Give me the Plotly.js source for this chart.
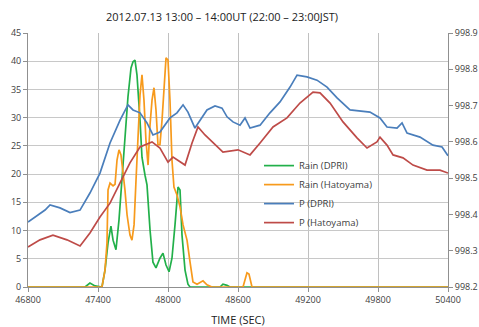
<!DOCTYPE html>
<html>
<head>
<meta charset="utf-8">
<script src="https://cdn.plot.ly/plotly-3.0.1.min.js"></script>
<style>html,body{margin:0;padding:0;background:#fff;}#chart{width:479px;height:327px;}</style>
</head>
<body>
<div id="chart"></div>
<script>
// Rain (DPRI)
const rainDpriT = [46800,47289,47331,47374,47434,47460,47486,47511,47529,47554,47580,47614,47640,47657,47683,47700,47717,47734,47760,47777,47803,47820,47846,47871,47897,47931,47957,47983,48009,48034,48060,48086,48103,48120,48146,48171,48189,48446,48471,48506,48531,50400];
const rainDpriV = [0,0,0.7,0.2,0,3.0,7.8,10.8,8.3,6.6,11.9,22.0,29.6,33.7,38.8,39.9,40.2,37.6,29.6,23.0,19.8,18.1,10.1,4.4,3.4,5.1,6.0,3.9,2.7,5.1,11.0,17.7,17.2,9.2,3.0,0.5,0,0,0.5,0.3,0,0];
// Rain (Hatoyama)
const rainHatoT = [46800,47434,47460,47477,47486,47503,47529,47546,47563,47580,47597,47614,47631,47649,47674,47691,47709,47726,47743,47760,47777,47794,47811,47829,47846,47863,47880,47897,47914,47931,47949,47966,47983,48000,48017,48034,48051,48077,48103,48129,48163,48189,48214,48249,48300,48334,48377,48643,48660,48677,48694,48711,48720,50400];
const rainHatoV = [0,0,3.0,7.8,17.2,18.4,17.9,18.2,22.5,24.3,23.4,20.7,17.2,12.8,9.2,8.3,11.0,19.0,26.0,34.0,37.6,33.1,26.0,21.6,28.7,33.1,35.3,31.4,25.2,25.2,29.6,34.9,40.6,40.2,33.1,22.5,17.7,16.3,14.2,11.0,8.3,4.4,0.9,0.5,1.1,0.4,0,0,1.2,2.5,2.3,0.4,0,0];
// P (DPRI)
const pDpriT = [46800,46860,46946,46989,47074,47160,47246,47331,47417,47503,47589,47657,47700,47760,47820,47871,47931,48017,48077,48129,48171,48231,48274,48334,48403,48463,48506,48557,48617,48660,48703,48789,48874,48960,49046,49106,49191,49277,49363,49449,49560,49731,49817,49877,49963,50006,50049,50160,50271,50349,50400];
const pDpriV = [998.379,998.393,998.412,998.426,998.418,998.405,998.412,998.459,998.514,998.597,998.660,998.702,998.688,998.680,998.652,998.619,998.627,998.666,998.680,998.702,998.682,998.638,998.660,998.688,998.699,998.693,998.669,998.655,998.646,998.666,998.638,998.646,998.680,998.710,998.751,998.784,998.779,998.770,998.751,998.721,998.688,998.682,998.666,998.641,998.638,998.652,998.624,998.613,998.591,998.586,998.562];
// P (Hatoyama)
const pHatoT = [46800,46860,46903,47014,47134,47246,47331,47417,47503,47589,47674,47760,47863,47931,48000,48043,48146,48206,48257,48317,48386,48471,48600,48703,48789,48900,49020,49131,49243,49303,49389,49500,49620,49706,49791,49817,49877,49929,50014,50100,50220,50331,50400];
const pHatoV = [998.310,998.321,998.330,998.343,998.330,998.313,998.349,998.393,998.431,998.487,998.542,998.586,998.600,998.583,998.544,998.558,998.536,998.597,998.641,998.619,998.597,998.572,998.578,998.564,998.597,998.641,998.666,998.707,998.737,998.735,998.707,998.655,998.611,998.583,998.600,998.613,998.591,998.564,998.556,998.536,998.522,998.522,998.514];

const FONT = "Open Sans, Liberation Sans, sans-serif";
const traces = [
  {x: rainDpriT, y: rainDpriV, name: 'Rain (DPRI)', mode: 'lines', line: {color: '#22b04a', width: 1.7}},
  {x: rainHatoT, y: rainHatoV, name: 'Rain (Hatoyama)', mode: 'lines', line: {color: '#f79a1c', width: 1.7}},
  {x: pDpriT, y: pDpriV, name: 'P (DPRI)', mode: 'lines', yaxis: 'y2', line: {color: '#4a7ebb', width: 1.7}},
  {x: pHatoT, y: pHatoV, name: 'P (Hatoyama)', mode: 'lines', yaxis: 'y2', line: {color: '#be4b48', width: 1.7}}
];
const layout = {
  width: 479, height: 327,
  margin: {l: 28, r: 31, t: 33, b: 40},
  paper_bgcolor: '#fff', plot_bgcolor: '#fff',
  font: {family: FONT, size: 9, color: '#404040'},
  title: {text: '2012.07.13 13:00 – 14:00UT (22:00 – 23:00JST)', font: {family: FONT, size: 11, color: '#222'}, x: 0.462, xref: 'paper', xanchor: 'center', y: 1 - 17/327, yref: 'container', yanchor: 'middle'},
  showlegend: true,
  legend: {x: 0.55, y: 0.535, xanchor: 'left', yanchor: 'top', bgcolor: 'rgba(0,0,0,0)', font: {family: FONT, size: 9.5, color: '#404040'}, tracegroupgap: 0},
  xaxis: {range: [46800, 50400], dtick: 600, tick0: 46800, tickformat: 'd', showgrid: true, gridcolor: '#c0c0c0', gridwidth: 1, zeroline: false,
    showline: true, linecolor: '#909090', ticks: 'outside', ticklen: 4, tickcolor: '#909090',
    title: {text: 'TIME (SEC)', font: {family: FONT, size: 11, color: '#222'}, standoff: 12}},
  yaxis: {range: [0, 45], dtick: 5, showgrid: true, gridcolor: '#c8c8c8', zeroline: false,
    showline: true, linecolor: '#909090', ticks: 'outside', ticklen: 4, tickcolor: '#909090'},
  yaxis2: {range: [998.2, 998.9], dtick: 0.1, tick0: 998.2, overlaying: 'y', side: 'right', showgrid: false, zeroline: false,
    showline: true, linecolor: '#909090', ticks: 'outside', ticklen: 4, tickcolor: '#909090', tickformat: '.1f'}
};
Plotly.newPlot('chart', traces, layout, {displayModeBar: false, staticPlot: true});
</script>
</body>
</html>
